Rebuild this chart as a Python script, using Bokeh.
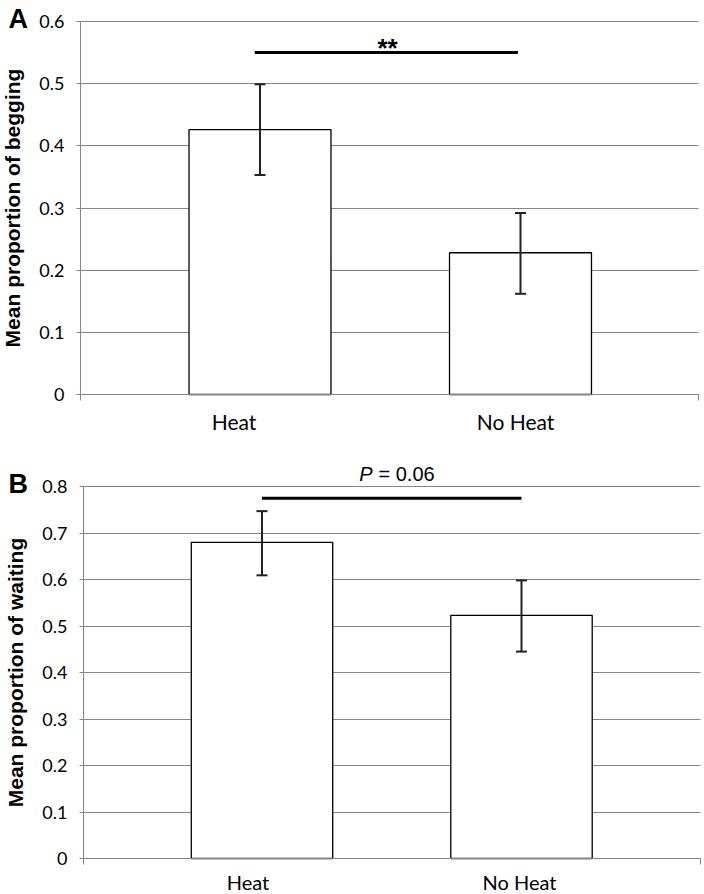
from bokeh.plotting import figure
from bokeh.models import (ColumnDataSource, Whisker, TeeHead, FixedTicker,
                          PrintfTickFormatter, Label, Range1d, LinearAxis,
                          CustomJSTickFormatter)
from bokeh.layouts import column
from bokeh.embed import file_html
from bokeh.resources import INLINE

# ---------------- data ----------------
categories = ["Heat", "No Heat"]
cat_pos = [1, 2]

begging_mean = [0.426, 0.228]
begging_lower = [0.353, 0.162]
begging_upper = [0.499, 0.292]

waiting_mean = [0.680, 0.523]
waiting_lower = [0.609, 0.445]
waiting_upper = [0.747, 0.598]

begging_ticks = [0, 0.1, 0.2, 0.3, 0.4, 0.5, 0.6]
waiting_ticks = [0, 0.1, 0.2, 0.3, 0.4, 0.5, 0.6, 0.7, 0.8]

sig_begging_x = [0.98, 1.99]
sig_begging_y = 0.55
sig_begging_text = "**"

sig_waiting_x = [1.0, 2.0]
sig_waiting_y = 0.775
sig_waiting_p = "P"
sig_waiting_rest = "= 0.06"

GRID = "#868686"
TICK_FONT = "Lato"
TITLE_FONT = "Liberation Sans"
WIDTH = 704


def make_panel(means, lowers, uppers, ticks, ytitle, letter, letter_mid,
               origin_y, height, L, R, T, B, c1_px, c2_px,
               label_shift_px, xlabel_size, xlabel_standoff):
    """Page-pixel geometry: L,R = axis start/end, T = top tick, B = zero line,
    c1_px/c2_px = category centres. The frame fills the whole figure and the
    axes are pinned at their data locations."""
    sx = (c2_px - c1_px) / (cat_pos[1] - cat_pos[0])
    ymax = ticks[-1]
    sy = (B - T) / ymax

    def dx(px):
        return cat_pos[0] + (px - c1_px) / sx

    def dy(py):
        return (B - py) / sy

    p = figure(width=WIDTH, height=height, output_backend="svg",
               toolbar_location=None,
               x_range=Range1d(dx(0), dx(WIDTH)),
               y_range=Range1d(dy(origin_y + height), dy(origin_y)),
               min_border=0)
    p.outline_line_color = None
    p.background_fill_color = "white"
    p.border_fill_color = "white"

    src = ColumnDataSource(dict(x=cat_pos, top=means, lower=lowers, upper=uppers))
    p.vbar(x="x", top="top", width=0.545, source=src, fill_color="white",
           line_color="black", line_width=1.3)
    w = Whisker(base="x", upper="upper", lower="lower", source=src,
                line_color="#222222", line_width=2, level="overlay",
                upper_head=TeeHead(size=11, line_color="#222222", line_width=2),
                lower_head=TeeHead(size=11, line_color="#222222", line_width=2))
    p.add_layout(w)

    # grid
    p.xgrid.grid_line_color = None
    p.ygrid.grid_line_color = GRID
    p.ygrid.grid_line_width = 1
    p.ygrid.ticker = FixedTicker(ticks=ticks)
    p.ygrid.cross_bounds = (dx(L), dx(R))

    # y axis pinned at the left end of the category axis
    ya = p.yaxis[0]
    ya.fixed_location = dx(L)
    ya.bounds = (0, ymax)
    ya.ticker = FixedTicker(ticks=ticks)
    ya.formatter = PrintfTickFormatter(format="%g")
    ya.axis_line_color = GRID
    ya.major_tick_line_color = GRID
    ya.major_tick_out = 4
    ya.major_tick_in = 0
    ya.minor_tick_line_color = None
    ya.major_label_standoff = 12
    ya.major_label_text_font = TICK_FONT
    ya.major_label_text_font_size = "18px"
    ya.major_label_text_color = "black"
    ya.axis_label = ytitle
    ya.axis_label_text_font = TITLE_FONT
    ya.axis_label_text_font_style = "bold"
    ya.axis_label_text_font_size = "21px"
    ya.axis_label_text_color = "black"
    ya.axis_label_standoff = 12

    # category axis pinned at zero (labels sit slightly left of the bars, as drawn)
    label_ticks = [c + s / sx for c, s in zip(cat_pos, label_shift_px)]
    xa = p.xaxis[0]
    xa.fixed_location = 0
    xa.bounds = (dx(L), dx(R))
    xa.ticker = FixedTicker(ticks=label_ticks)
    xa.major_label_overrides = {t: c for t, c in zip(label_ticks, categories)}
    xa.axis_line_color = GRID
    xa.major_tick_line_color = None
    xa.major_tick_out = 0
    xa.major_tick_in = 0
    xa.minor_tick_line_color = None
    xa.major_label_standoff = xlabel_standoff
    xa.major_label_text_font = TICK_FONT
    xa.major_label_text_font_size = xlabel_size
    xa.major_label_text_color = "black"

    # small end ticks of the category axis
    ends = LinearAxis(fixed_location=0, ticker=FixedTicker(ticks=[dx(L), dx(R)]),
                      formatter=CustomJSTickFormatter(code="return ''"),
                      axis_line_color=None, major_tick_line_color=GRID,
                      major_tick_out=6, major_tick_in=0,
                      minor_tick_line_color=None)
    p.add_layout(ends, "below")

    p.add_layout(Label(x=dx(8), y=dy(letter_mid), text=letter, text_font=TITLE_FONT,
                       text_font_style="bold", text_font_size="27px",
                       text_align="left", text_baseline="middle",
                       text_color="black"))
    return p, dx, dy


# Panel A
pA, dxA, dyA = make_panel(begging_mean, begging_lower, begging_upper, begging_ticks,
                          "Mean proportion of begging", "A", 18,
                          origin_y=0, height=448, L=80, R=698, T=21, B=394,
                          c1_px=259.5, c2_px=520,
                          label_shift_px=[-26, -5], xlabel_size="21px",
                          xlabel_standoff=14)
pA.line(x=sig_begging_x, y=[sig_begging_y] * 2, line_color="black", line_width=3)
pA.add_layout(Label(x=dxA(387), y=dyA(47), text=sig_begging_text,
                    text_font=TITLE_FONT, text_font_style="bold",
                    text_font_size="26px", text_align="center",
                    text_baseline="middle", text_color="black"))

# Panel B
pB, dxB, dyB = make_panel(waiting_mean, waiting_lower, waiting_upper, waiting_ticks,
                          "Mean proportion of waiting", "B", 483,
                          origin_y=448, height=446, L=83, R=700, T=486, B=858,
                          c1_px=261.5, c2_px=521,
                          label_shift_px=[-14, -2], xlabel_size="20px",
                          xlabel_standoff=11)
pB.line(x=sig_waiting_x, y=[sig_waiting_y] * 2, line_color="black", line_width=3)
pB.add_layout(Label(x=dxB(372), y=dyB(473.5), text=sig_waiting_p,
                    text_font=TITLE_FONT, text_font_style="italic",
                    text_font_size="20px", text_align="right",
                    text_baseline="middle", text_color="black"))
pB.add_layout(Label(x=dxB(378), y=dyB(473.5), text=sig_waiting_rest,
                    text_font=TITLE_FONT, text_font_size="20px",
                    text_align="left", text_baseline="middle",
                    text_color="black"))

layout = column(pA, pB, spacing=0)
open("out.html", "w").write(file_html(layout, INLINE))
